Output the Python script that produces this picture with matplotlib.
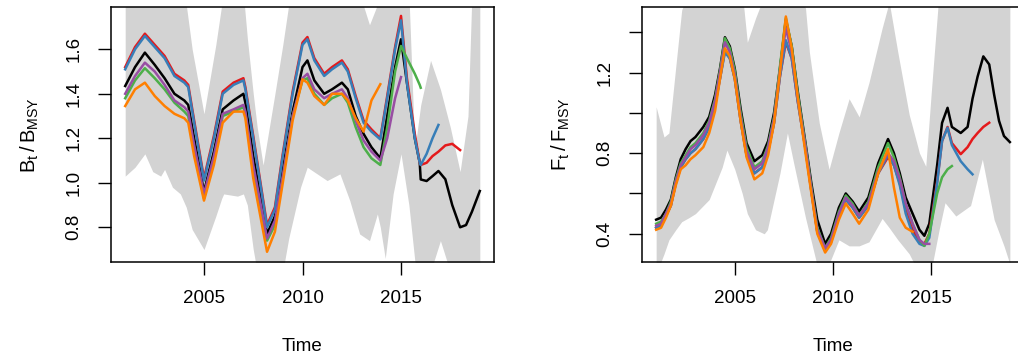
"""Retrospective B/BMSY and F/FMSY trajectories with confidence band."""
import matplotlib
matplotlib.use("Agg")
import matplotlib.pyplot as plt

# ── Data ──────────────────────────────────────────────────────────────────────

B_YEARS = [2001.0, 2001.5, 2002.0, 2002.5, 2003.0, 2003.5, 2004.0, 2004.2, 2004.5,
           2005.0, 2005.5, 2005.95, 2006.5, 2007.0, 2007.1, 2007.5, 2008.2, 2008.6,
           2009.0, 2009.5, 2010.0, 2010.25, 2010.6, 2011.1, 2011.5, 2012.0, 2012.3,
           2012.7, 2013.1, 2013.5, 2013.95, 2014.3, 2014.7, 2015.0, 2015.3, 2015.7,
           2015.95, 2016.0, 2016.3, 2016.6, 2016.9, 2017.25, 2017.6, 2018.0, 2018.3,
           2018.6, 2019.0]

b_black = [1.435, 1.52, 1.585, 1.53, 1.47, 1.40, 1.37, 1.35, 1.20, 0.96, 1.14, 1.33,
           1.37, 1.40, 1.36, 1.12, 0.77, 0.85, 1.06, 1.32, 1.52, 1.55, 1.46, 1.40,
           1.42, 1.45, 1.42, 1.30, 1.22, 1.16, 1.11, 1.30, 1.52, 1.645, 1.45, 1.20,
           1.09, 1.015, 1.008, 1.03, 1.053, 1.016, 0.90, 0.80, 0.81, 0.87, 0.963]
b_red = [1.52, 1.61, 1.67, 1.62, 1.57, 1.49, 1.46, 1.44, 1.28, 1.02, 1.21, 1.41,
         1.45, 1.47, 1.43, 1.21, 0.81, 0.89, 1.13, 1.41, 1.63, 1.655, 1.56, 1.49,
         1.52, 1.55, 1.51, 1.39, 1.28, 1.24, 1.20, 1.39, 1.61, 1.75, 1.47, 1.22,
         1.09, 1.08, 1.09, 1.12, 1.14, 1.168, 1.175, 1.147]
b_blue = [1.51, 1.60, 1.66, 1.61, 1.56, 1.48, 1.45, 1.43, 1.27, 1.01, 1.20, 1.40,
          1.44, 1.46, 1.42, 1.20, 0.80, 0.88, 1.12, 1.40, 1.62, 1.645, 1.55, 1.48,
          1.51, 1.54, 1.50, 1.38, 1.27, 1.23, 1.195, 1.38, 1.60, 1.73, 1.45, 1.20,
          1.09, 1.08, 1.13, 1.20, 1.26]
b_green = [1.38, 1.46, 1.515, 1.47, 1.42, 1.36, 1.32, 1.30, 1.15, 0.93, 1.10, 1.30,
           1.32, 1.34, 1.31, 1.06, 0.74, 0.81, 1.02, 1.30, 1.46, 1.47, 1.40, 1.35,
           1.38, 1.40, 1.36, 1.25, 1.16, 1.11, 1.08, 1.25, 1.50, 1.615, 1.56, 1.49,
           1.44, 1.427]
b_purple = [1.40, 1.48, 1.54, 1.50, 1.44, 1.37, 1.34, 1.32, 1.17, 0.95, 1.12, 1.31,
            1.33, 1.35, 1.32, 1.08, 0.75, 0.83, 1.03, 1.30, 1.47, 1.49, 1.42, 1.38,
            1.40, 1.42, 1.38, 1.28, 1.19, 1.14, 1.10, 1.20, 1.38, 1.475]
b_orange = [1.345, 1.42, 1.45, 1.39, 1.345, 1.31, 1.29, 1.27, 1.12, 0.92, 1.08, 1.27,
            1.32, 1.32, 1.29, 1.02, 0.69, 0.78, 1.00, 1.28, 1.465, 1.45, 1.39, 1.35,
            1.40, 1.40, 1.37, 1.29, 1.23, 1.37, 1.443]

B_BAND_YEARS = [2001.0, 2001.5, 2002.0, 2002.4, 2002.8, 2003.0, 2003.4, 2003.8, 2004.1,
                2004.4, 2005.0, 2005.6, 2005.9, 2006.0, 2006.7, 2007.0, 2007.2, 2007.5,
                2007.7, 2008.0, 2008.6, 2009.0, 2009.3, 2009.9, 2010.24, 2011.25, 2011.9,
                2012.4, 2012.9, 2013.4, 2013.8, 2013.95, 2014.2, 2014.6, 2015.0, 2015.4,
                2015.7, 2016.0, 2016.5, 2017.0, 2017.5, 2018.0, 2018.4, 2018.6, 2019.0]
b_band_hi = [1.85, 1.85, 1.85, 1.85, 1.85, 1.85, 1.85, 1.85, 1.80, 1.60, 1.31, 1.62,
             1.80, 1.85, 1.85, 1.85, 1.65, 1.40, 1.25, 1.08, 1.40, 1.62, 1.80, 1.85,
             1.85, 1.85, 1.85, 1.85, 1.85, 1.71, 1.80, 1.85, 1.85, 1.85, 1.85, 1.85,
             1.15, 1.35, 1.55, 1.42, 1.25, 1.05, 1.30, 1.85, 1.85]
b_band_lo = [1.03, 1.07, 1.13, 1.05, 1.03, 1.06, 0.98, 0.95, 0.89, 0.79, 0.70, 0.85,
             0.93, 0.95, 0.94, 0.95, 0.90, 0.70, 0.60, 0.55, 0.55, 0.60, 0.75, 0.98,
             1.07, 1.01, 1.04, 0.92, 0.77, 0.74, 0.86, 0.80, 0.66, 0.95, 1.13, 0.90,
             0.65, 0.55, 0.60, 0.74, 0.60, 0.55, 0.55, 0.55, 0.55]

F_YEARS = [2001.0, 2001.25, 2001.5, 2001.75, 2002.0, 2002.25, 2002.5, 2002.75, 2003.0,
           2003.4, 2003.7, 2004.0, 2004.25, 2004.5, 2004.75, 2005.0, 2005.3, 2005.6,
           2006.0, 2006.4, 2006.7, 2007.0, 2007.3, 2007.6, 2007.9, 2008.2, 2008.6,
           2008.9, 2009.2, 2009.6, 2009.9, 2010.3, 2010.65, 2011.0, 2011.33, 2011.8,
           2012.3, 2012.8, 2013.1, 2013.4, 2013.7, 2014.05, 2014.4, 2014.65, 2014.9,
           2015.3, 2015.55, 2015.83, 2016.05, 2016.5, 2016.85, 2017.1, 2017.36,
           2017.65, 2017.95, 2018.2, 2018.45, 2018.7, 2019.0]

f_black = [0.47, 0.48, 0.52, 0.57, 0.68, 0.77, 0.82, 0.86, 0.88, 0.93, 0.98, 1.09,
           1.22, 1.375, 1.33, 1.22, 1.02, 0.85, 0.76, 0.79, 0.86, 1.00, 1.22, 1.46,
           1.33, 1.11, 0.85, 0.65, 0.47, 0.35, 0.40, 0.53, 0.60, 0.56, 0.51, 0.58,
           0.75, 0.87, 0.80, 0.70, 0.58, 0.50, 0.42, 0.39, 0.45, 0.74, 0.95, 1.025,
           0.93, 0.90, 0.93, 1.07, 1.18, 1.28, 1.24, 1.09, 0.96, 0.885, 0.855]
f_red = [0.43, 0.44, 0.49, 0.54, 0.65, 0.73, 0.77, 0.80, 0.82, 0.87, 0.93, 1.04,
         1.17, 1.31, 1.27, 1.17, 0.96, 0.79, 0.70, 0.73, 0.81, 0.95, 1.18, 1.35,
         1.27, 1.06, 0.82, 0.61, 0.41, 0.32, 0.36, 0.49, 0.57, 0.53, 0.48, 0.54,
         0.70, 0.78, 0.74, 0.65, 0.52, 0.42, 0.36, 0.35, 0.40, 0.66, 0.86, 0.93,
         0.85, 0.795, 0.83, 0.87, 0.90, 0.93, 0.951]
f_blue = [0.43, 0.44, 0.49, 0.54, 0.65, 0.73, 0.77, 0.80, 0.82, 0.87, 0.93, 1.04,
          1.17, 1.30, 1.27, 1.17, 0.96, 0.79, 0.70, 0.73, 0.81, 0.95, 1.18, 1.36,
          1.27, 1.06, 0.82, 0.61, 0.41, 0.32, 0.36, 0.49, 0.57, 0.53, 0.48, 0.54,
          0.70, 0.79, 0.74, 0.64, 0.50, 0.40, 0.35, 0.34, 0.38, 0.65, 0.86, 0.926,
          0.84, 0.76, 0.72, 0.695]
f_green = [0.45, 0.46, 0.50, 0.56, 0.67, 0.75, 0.79, 0.83, 0.85, 0.90, 0.96, 1.07,
           1.21, 1.37, 1.32, 1.21, 1.00, 0.83, 0.73, 0.76, 0.84, 0.98, 1.23, 1.47,
           1.33, 1.10, 0.84, 0.63, 0.43, 0.33, 0.38, 0.51, 0.59, 0.55, 0.49, 0.56,
           0.73, 0.85, 0.78, 0.68, 0.55, 0.45, 0.37, 0.34, 0.40, 0.60, 0.68, 0.72,
           0.736]
f_purple = [0.44, 0.45, 0.50, 0.55, 0.66, 0.74, 0.78, 0.82, 0.84, 0.89, 0.95, 1.06,
            1.20, 1.35, 1.30, 1.19, 0.98, 0.81, 0.72, 0.75, 0.83, 0.97, 1.21, 1.42,
            1.30, 1.08, 0.83, 0.62, 0.42, 0.33, 0.37, 0.50, 0.58, 0.54, 0.49, 0.55,
            0.71, 0.80, 0.76, 0.67, 0.55, 0.45, 0.37, 0.35, 0.35]
f_orange = [0.42, 0.43, 0.48, 0.54, 0.64, 0.72, 0.74, 0.77, 0.79, 0.83, 0.90, 1.01,
            1.17, 1.32, 1.28, 1.17, 0.96, 0.78, 0.67, 0.70, 0.79, 0.95, 1.20, 1.478,
            1.32, 1.08, 0.80, 0.60, 0.40, 0.307, 0.35, 0.47, 0.55, 0.50, 0.45, 0.52,
            0.70, 0.82, 0.63, 0.48, 0.43, 0.41]

F_BAND_YEARS = [2001.0, 2001.4, 2001.65, 2002.0, 2002.3, 2002.67, 2003.0, 2003.7,
                2004.36, 2004.6, 2005.0, 2005.38, 2005.64, 2006.06, 2006.5, 2006.66,
                2007.3, 2007.68, 2008.0, 2008.6, 2008.8, 2009.3, 2009.8, 2010.3,
                2010.82, 2011.33, 2011.83, 2012.5, 2012.86, 2013.3, 2013.88, 2014.4,
                2014.72, 2015.0, 2015.4, 2015.7, 2016.25, 2017.0, 2017.6, 2018.2,
                2018.7, 2019.0]
f_band_hi = [1.03, 0.88, 0.90, 1.23, 1.51, 1.60, 1.60, 1.60, 1.60, 1.60, 1.60, 1.60,
             1.35, 1.47, 1.58, 1.60, 1.60, 1.60, 1.60, 1.52, 1.30, 0.95, 0.72, 0.90,
             1.07, 0.98, 1.15, 1.42, 1.55, 1.30, 0.99, 0.80, 0.735, 1.10, 1.60, 1.60,
             1.60, 1.60, 1.60, 1.60, 1.60, 1.60]
f_band_lo = [0.20, 0.30, 0.37, 0.42, 0.46, 0.48, 0.50, 0.57, 0.73, 0.815, 0.72, 0.60,
             0.50, 0.42, 0.40, 0.42, 0.70, 0.90, 0.75, 0.48, 0.40, 0.20, 0.25, 0.37,
             0.34, 0.34, 0.36, 0.476, 0.43, 0.37, 0.30, 0.20, 0.20, 0.22, 0.42, 0.554,
             0.488, 0.54, 0.77, 0.47, 0.34, 0.25]

SERIES_COLORS = ["black", "#E41A1C", "#377EB8", "#4DAF4A", "#984EA3", "#FF7F00"]
BAND_COLOR = "#D3D3D3"

# ── Figure ────────────────────────────────────────────────────────────────────

plt.rcParams["font.family"] = ["Liberation Sans", "DejaVu Sans"]
plt.rcParams["mathtext.default"] = "regular"

fig = plt.figure(figsize=(10.18, 3.6), dpi=100)
ax_b = fig.add_axes([111 / 1018, 98 / 360, 383 / 1018, 255 / 360])
ax_f = fig.add_axes([642 / 1018, 98 / 360, 382 / 1018, 255 / 360])


def _panel(ax, years, series, band_years, lo, hi, ylim, yticks, ylabels, ylabel):
    ax.fill_between(band_years, lo, hi, color=BAND_COLOR, linewidth=0)
    for vals, color in zip(series, SERIES_COLORS):
        ax.plot(years[:len(vals)], vals, color=color, linewidth=1.8)
    ax.set_xlim(2000.28, 2019.72)
    ax.set_ylim(*ylim)
    ax.set_xticks([2005, 2010, 2015])
    ax.set_yticks(yticks)
    ax.set_yticklabels(ylabels, rotation=90, va="center")
    ax.tick_params(length=9.4, width=1, pad=11, labelsize=13.5, colors="black")
    for s in ax.spines.values():
        s.set_linewidth(1.1)
    ax.set_xlabel("Time", fontsize=13.5, labelpad=22)
    ax.set_ylabel(ylabel, fontsize=14.5, labelpad=18)


_panel(ax_b, B_YEARS, [b_black, b_red, b_blue, b_green, b_purple, b_orange],
       B_BAND_YEARS, b_band_lo, b_band_hi, (0.644, 1.790),
       [0.8, 1.0, 1.2, 1.4, 1.6], ["0.8", "1.0", "1.2", "1.4", "1.6"],
       r"$B_t\,/\,B_{MSY}$")
_panel(ax_f, F_YEARS, [f_black, f_red, f_blue, f_green, f_purple, f_orange],
       F_BAND_YEARS, f_band_lo, f_band_hi, (0.260, 1.525),
       [0.4, 0.6, 0.8, 1.0, 1.2, 1.4], ["0.4", "", "0.8", "", "1.2", ""],
       r"$F_t\,/\,F_{MSY}$")

fig.savefig("out.png", dpi=100)
